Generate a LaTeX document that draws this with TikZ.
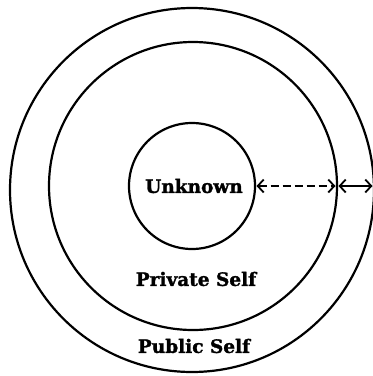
\documentclass[tikz,border=0pt]{standalone}
\usepackage{fontspec}
\setmainfont{DejaVu Serif}[BoldFeatures={FakeBold=1.5}]
\usetikzlibrary{arrows.meta}
\tikzset{
  ring/.style={circle, draw, line width=2.2pt, inner sep=0pt, outer sep=0pt},
  lbl/.style={font=\bfseries\fontsize{18.5}{20}\selectfont, inner sep=0pt},
  conn/.style={line width=1.8pt, {Straight Barb[length=6pt,width=13pt]}-{Straight Barb[length=6pt,width=13pt]}, shorten <=1.5pt, shorten >=1.5pt}
}
\begin{document}
\begin{tikzpicture}[x=1pt,y=-1pt]
\useasboundingbox (0,0) rectangle (373,376);
\node[ring, minimum size=364pt] (outer) at (192,190) {};
\node[ring, minimum size=288pt] (middle) at (193,186) {};
\node[ring, minimum size=126pt] (inner) at (192,186) {};
\node[lbl] (unk) at (194,186) {Unknown};
\node[lbl] (priv) at (196,279) {Private Self};
\node[lbl] (pub) at (194,346) {Public Self};
\coordinate (oe) at (outer.east |- middle.east);
\draw[conn, dash pattern=on 8pt off 4pt] (inner.east) -- (middle.east);
\draw[conn] (middle.east) -- (oe);
\end{tikzpicture}
\end{document}
